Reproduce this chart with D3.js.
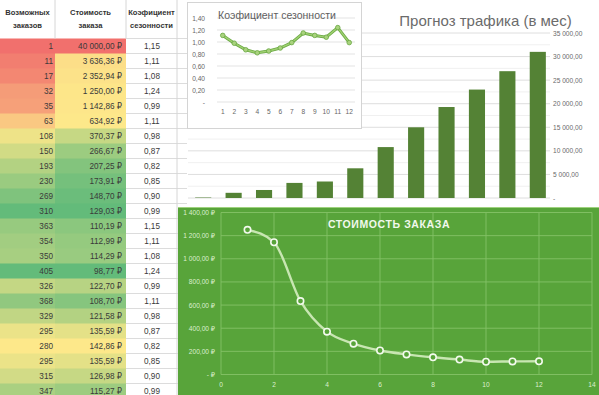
<!DOCTYPE html>
<html>
<head>
<meta charset="utf-8">
<script src="https://cdn.jsdelivr.net/npm/d3@7"></script>
<style>
body { margin: 0; background: #fff; }
svg text { font-family: "Liberation Sans", "DejaVu Sans", sans-serif; }
</style>
</head>
<body>
<script>
var w = 599;
var h = 395;

// table
var orders = [1, 11, 17, 32, 35, 63, 108, 150, 193, 230, 269, 310,
              363, 354, 350, 405, 326, 368, 329, 295, 280, 295, 315, 347];
var orderCost = [40000, 3636.36, 2352.94, 1250, 1142.86, 634.92, 370.37, 266.67, 207.25, 173.91, 148.70, 129.03,
                 110.19, 112.99, 114.29, 98.77, 122.70, 108.70, 121.58, 135.59, 142.86, 135.59, 126.98, 115.27];
var season = [1.15, 1.11, 1.08, 1.24, 0.99, 1.11, 0.98, 0.87, 0.82, 0.85, 0.90, 0.99,
              1.15, 1.11, 1.08, 1.24, 0.99, 1.11, 0.98, 0.87, 0.82, 0.85, 0.90, 0.99];
var headers = [["Возможных", "заказов"], ["Стоимость", "заказа"], ["Коэфициент", "сезонности"]];

// charts
var months = [1, 2, 3, 4, 5, 6, 7, 8, 9, 10, 11, 12];
var seasonByMonth = [1.11, 0.98, 0.87, 0.82, 0.85, 0.90, 0.99, 1.15, 1.11, 1.08, 1.24, 0.99];
var traffic = [100, 1100, 1700, 3200, 3500, 6300, 10800, 15000, 19300, 23000, 26900, 31000];
var costByMonth = [1250, 1142.86, 634.92, 370.37, 266.67, 207.25, 173.91, 148.70, 129.03, 110.19, 112.99, 114.29];

var seasonTicks = [0, 0.2, 0.4, 0.6, 0.8, 1.0, 1.2, 1.4];
var trafficTicks = [0, 5000, 10000, 15000, 20000, 25000, 30000, 35000];
var costTicks = [0, 200, 400, 600, 800, 1000, 1200, 1400];
var costXTicks = [0, 2, 4, 6, 8, 10, 12, 14];

var ru = d3.formatLocale({decimal: ",", thousands: "\u00a0", grouping: [3], currency: ["", ""]});
var num2 = ru.format(",.2f");
function rub(v){ return num2(v) + " \u20bd"; }
function acc(v){ return v === 0 ? "-" : num2(v); }

var svg = d3.select("body")
    .append("svg")
    .attr("width", w)
    .attr("height", h);

/* ---------- table ---------- */
var headH = 38.5, rowH = 15;
var colX = [0, 55, 126, 177];
var red = "#f1706d", yellow = "#fde88a", green = "#63bb7a";

// colour scales: first 12 rows 3-colour, next 12 rows 2-colour
function heat(values, ascending){
    var a = values.slice(0, 12), b = values.slice(12);
    var ea = d3.extent(a), eb = d3.extent(b), mid = d3.median(a);
    var s1 = d3.scaleLinear()
        .domain(ascending ? [ea[0], mid, ea[1]] : [ea[1], mid, ea[0]])
        .range([red, yellow, green]);
    var s2 = d3.scaleLinear()
        .domain(ascending ? eb : [eb[1], eb[0]])
        .range([yellow, green]);
    return values.map(function(v, i){ return i < 12 ? s1(v) : s2(v); });
}
var fill1 = heat(orders, true);
var fill2 = heat(orderCost, false);

var rowY = d3.scaleBand()
    .domain(d3.range(orders.length))
    .range([headH, headH + rowH*orders.length]);

var table = svg.append("g");

// sheet grid in 3rd column and gap
table.selectAll("line.rowline")
    .data(d3.range(orders.length + 1))
    .enter()
    .append("line")
    .attr("x1", colX[2]).attr("x2", 187)
    .attr("y1", function(d){ return headH + d*rowH; })
    .attr("y2", function(d){ return headH + d*rowH; })
    .attr("stroke", "#dcdcdc");

table.selectAll("rect.c1")
    .data(orders)
    .enter()
    .append("rect")
    .attr("x", colX[0])
    .attr("y", function(d, i){ return rowY(i); })
    .attr("width", colX[1] - colX[0])
    .attr("height", rowY.bandwidth() + 0.5)
    .attr("fill", function(d, i){ return fill1[i]; });

table.selectAll("rect.c2")
    .data(orderCost)
    .enter()
    .append("rect")
    .attr("x", colX[1])
    .attr("y", function(d, i){ return rowY(i); })
    .attr("width", colX[2] - colX[1])
    .attr("height", rowY.bandwidth() + 0.5)
    .attr("fill", function(d, i){ return fill2[i]; });

// header separators
[colX[1], colX[2], colX[3]].forEach(function(x){
    table.append("line")
        .attr("x1", x).attr("x2", x)
        .attr("y1", 0).attr("y2", x == colX[3] ? h : headH)
        .attr("stroke", "#d6d6d6");
});

headers.forEach(function(lines, c){
    var cx = (colX[c] + colX[c+1]) / 2;
    lines.forEach(function(t, k){
        table.append("text")
            .attr("x", cx)
            .attr("y", 15 + k*12.5)
            .attr("text-anchor", "middle")
            .attr("font-size", "7.6px")
            .attr("font-weight", "bold")
            .attr("fill", "#333")
            .text(t);
    });
});

function cellText(data, x, anchor, fmt){
    table.selectAll(null)
        .data(data)
        .enter()
        .append("text")
        .attr("x", x)
        .attr("y", function(d, i){ return rowY(i) + rowY.bandwidth()/2 + 3; })
        .attr("text-anchor", anchor)
        .attr("font-size", "8.2px")
        .attr("fill", "#3a3a3a")
        .text(fmt);
}
cellText(orders, 53, "end", function(d){ return d; });
cellText(orderCost, 122, "end", rub);
cellText(season, 152, "middle", function(d){ return num2(d); });

/* ---------- traffic bar chart ---------- */
var bx = d3.scaleBand()
    .domain(months)
    .range([188, 553])
    .paddingInner(0.47)
    .paddingOuter(0.235);
var by = d3.scaleLinear()
    .domain([0, 35000])
    .range([198, 33]);

var bars = svg.append("g");

bars.selectAll("line.minor")
    .data(d3.range(2500, 35000, 5000))
    .enter()
    .append("line")
    .attr("x1", 188).attr("x2", 550)
    .attr("y1", function(d){ return by(d); })
    .attr("y2", function(d){ return by(d); })
    .attr("stroke", "#f0f0f0");

bars.selectAll("line.major")
    .data(trafficTicks)
    .enter()
    .append("line")
    .attr("x1", 188).attr("x2", 550)
    .attr("y1", function(d){ return by(d); })
    .attr("y2", function(d){ return by(d); })
    .attr("stroke", "#dedede");

bars.selectAll("rect")
    .data(traffic)
    .enter()
    .append("rect")
    .attr("x", function(d, i){ return bx(months[i]); })
    .attr("y", function(d){ return by(d); })
    .attr("width", bx.bandwidth())
    .attr("height", function(d){ return by(0) - by(d); })
    .attr("fill", "#548235");

bars.selectAll("text.tick")
    .data(trafficTicks)
    .enter()
    .append("text")
    .attr("x", 553)
    .attr("y", function(d){ return by(d) + 2.5; })
    .attr("font-size", "6.6px")
    .attr("fill", "#6a6a6a")
    .text(acc);

bars.append("text")
    .attr("x", 485.5)
    .attr("y", 26)
    .attr("text-anchor", "middle")
    .attr("font-size", "15px")
    .attr("fill", "#6b6b6b")
    .text("Прогноз трафика (в мес)");

/* ---------- seasonality chart ---------- */
var sg = svg.append("g");
sg.append("rect")
    .attr("x", 187.5).attr("y", 2.5)
    .attr("width", 174).attr("height", 126)
    .attr("fill", "#fff")
    .attr("stroke", "#d4d4d4");

var sx = d3.scaleBand()
    .domain(months)
    .range([217, 355]);
var sy = d3.scaleLinear()
    .domain([0, 1.4])
    .range([102, 18]);

sg.selectAll("line.grid")
    .data(seasonTicks)
    .enter()
    .append("line")
    .attr("x1", 217).attr("x2", 355)
    .attr("y1", function(d){ return sy(d); })
    .attr("y2", function(d){ return sy(d); })
    .attr("stroke", "#e3e3e3");

sg.selectAll("text.ytick")
    .data(seasonTicks)
    .enter()
    .append("text")
    .attr("x", 205)
    .attr("y", function(d){ return sy(d) + 2.5; })
    .attr("text-anchor", "end")
    .attr("font-size", "6.6px")
    .attr("fill", "#666")
    .text(function(d){ return d === 0 ? "-" : num2(d); });

sg.selectAll("text.xtick")
    .data(months)
    .enter()
    .append("text")
    .attr("x", function(d){ return sx(d) + sx.bandwidth()/2; })
    .attr("y", 114)
    .attr("text-anchor", "middle")
    .attr("font-size", "6.6px")
    .attr("fill", "#666")
    .text(function(d){ return d; });

sg.append("text")
    .attr("x", 277)
    .attr("y", 19)
    .attr("text-anchor", "middle")
    .attr("font-size", "10.5px")
    .attr("fill", "#5e5e5e")
    .text("Коэфициент сезонности");

var sline = d3.line()
    .x(function(d, i){ return sx(months[i]) + sx.bandwidth()/2; })
    .y(function(d){ return sy(d); });

sg.append("path")
    .datum(seasonByMonth)
    .attr("d", sline)
    .attr("fill", "none")
    .attr("stroke", "#6aa843")
    .attr("stroke-width", 3);
sg.append("path")
    .datum(seasonByMonth)
    .attr("d", sline)
    .attr("fill", "none")
    .attr("stroke", "#9fd071")
    .attr("stroke-width", 1.4);

sg.selectAll("circle")
    .data(seasonByMonth)
    .enter()
    .append("circle")
    .attr("cx", function(d, i){ return sx(months[i]) + sx.bandwidth()/2; })
    .attr("cy", function(d){ return sy(d); })
    .attr("r", 2.3)
    .attr("fill", "#a9d27e")
    .attr("stroke", "#6aa843")
    .attr("stroke-width", 0.8);

/* ---------- order cost chart ---------- */
var cg = svg.append("g");
cg.append("rect")
    .attr("x", 178).attr("y", 207)
    .attr("width", w - 178).attr("height", h - 207)
    .attr("fill", "#58a43a");
cg.append("line")
    .attr("x1", 178).attr("x2", w)
    .attr("y1", 207.5).attr("y2", 207.5)
    .attr("stroke", "#9fd27e");

var cx = d3.scaleLinear()
    .domain([0, 14])
    .range([221, 592]);
var cy = d3.scaleLinear()
    .domain([0, 1400])
    .range([374.5, 212.5]);

cg.selectAll("line.h")
    .data(costTicks)
    .enter()
    .append("line")
    .attr("x1", cx(0)).attr("x2", cx(14))
    .attr("y1", function(d){ return cy(d); })
    .attr("y2", function(d){ return cy(d); })
    .attr("stroke", "#85c266")
    .attr("stroke-width", 0.9);

cg.selectAll("line.v")
    .data(costXTicks)
    .enter()
    .append("line")
    .attr("x1", function(d){ return cx(d); })
    .attr("x2", function(d){ return cx(d); })
    .attr("y1", cy(1400)).attr("y2", cy(0))
    .attr("stroke", "#85c266")
    .attr("stroke-width", 0.9);

cg.selectAll("text.ytick")
    .data(costTicks)
    .enter()
    .append("text")
    .attr("x", 215)
    .attr("y", function(d){ return cy(d) + 2.5; })
    .attr("text-anchor", "end")
    .attr("font-size", "6.6px")
    .attr("fill", "#dcefcf")
    .text(function(d){ return d === 0 ? "-  \u20bd" : rub(d); });

cg.selectAll("text.xtick")
    .data(costXTicks)
    .enter()
    .append("text")
    .attr("x", function(d){ return cx(d); })
    .attr("y", 387)
    .attr("text-anchor", "middle")
    .attr("font-size", "6.6px")
    .attr("fill", "#dcefcf")
    .text(function(d){ return d; });

cg.append("text")
    .attr("x", 389)
    .attr("y", 228)
    .attr("text-anchor", "middle")
    .attr("font-size", "10.5px")
    .attr("font-weight", "bold")
    .attr("letter-spacing", "0.6px")
    .attr("fill", "#f1f8ec")
    .text("СТОИМОСТЬ ЗАКАЗА");

var cline = d3.line()
    .curve(d3.curveMonotoneX)
    .x(function(d, i){ return cx(months[i]); })
    .y(function(d){ return cy(d); });

cg.append("path")
    .datum(costByMonth)
    .attr("d", cline)
    .attr("fill", "none")
    .attr("stroke", "#c8e6b2")
    .attr("stroke-width", 2.4);

cg.selectAll("circle")
    .data(costByMonth)
    .enter()
    .append("circle")
    .attr("cx", function(d, i){ return cx(months[i]); })
    .attr("cy", function(d){ return cy(d); })
    .attr("r", 3.2)
    .attr("fill", "#58a43a")
    .attr("stroke", "#f3faee")
    .attr("stroke-width", 1.6);
</script>
</body>
</html>
